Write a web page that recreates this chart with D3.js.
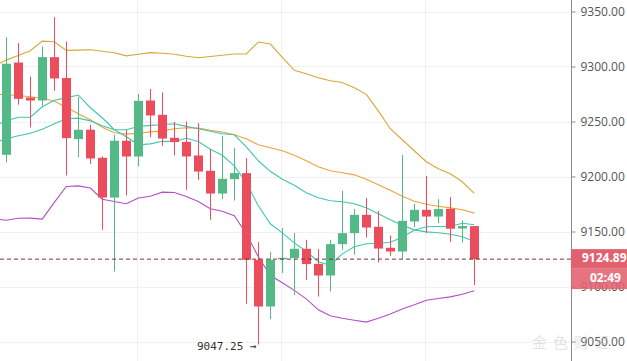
<!DOCTYPE html>
<html>
<head>
<meta charset="utf-8">
<script src="https://cdn.jsdelivr.net/npm/d3@7"></script>
<style>
  html, body { margin: 0; padding: 0; background: #fff; }
  svg { display: block; }
</style>
</head>
<body>
<div id="chart"></div>
<script>
// OHLC per candle (40 candles)
const opens  = [9219.7, 9303.6, 9271.8, 9269.1, 9308.5, 9289.5, 9234.0, 9242.5, 9217.0, 9180.9,
                9232.5, 9218.2, 9269.1, 9256.1, 9235.2, 9231.5, 9219.1, 9205.2, 9184.5, 9197.6,
                9203.1, 9124.3, 9081.8, 9124.9, 9125.8, 9134.3, 9120.6, 9110.0, 9138.5, 9148.5,
                9165.2, 9154.3, 9135.2, 9131.8, 9159.1, 9169.7, 9163.6, 9170.6, 9152.7, 9154.9];
const highs  = [9326.7, 9321.3, 9290.9, 9318.2, 9344.9, 9322.7, 9272.2, 9247.0, 9218.2, 9237.9,
                9242.5, 9275.2, 9279.5, 9276.4, 9249.5, 9250.0, 9248.5, 9224.9, 9237.0, 9226.1,
                9216.7, 9140.4, 9131.3, 9153.1, 9148.5, 9142.5, 9134.0, 9142.5, 9187.0, 9170.6,
                9180.4, 9168.8, 9146.4, 9219.5, 9175.2, 9200.6, 9179.5, 9181.3, 9160.0, 9154.9];
const lows   = [9212.7, 9265.2, 9244.5, 9264.3, 9277.9, 9200.9, 9217.6, 9211.5, 9151.5, 9113.6,
                9182.7, 9209.1, 9235.8, 9227.9, 9219.1, 9187.9, 9197.0, 9160.6, 9179.5, 9178.2,
                9084.3, 9047.25, 9070.4, 9112.2, 9092.2, 9106.1, 9090.9, 9095.5, 9133.4, 9128.8,
                9144.5, 9121.8, 9127.9, 9124.9, 9154.0, 9148.5, 9157.6, 9140.6, 9140.0, 9101.3];
const closes = [9302.5, 9270.6, 9269.1, 9308.5, 9289.1, 9234.9, 9242.5, 9216.4, 9180.9, 9232.5,
                9218.2, 9268.8, 9255.5, 9234.5, 9231.3, 9218.2, 9204.5, 9184.5, 9197.9, 9203.1,
                9124.3, 9081.8, 9124.3, 9126.1, 9134.3, 9120.4, 9110.0, 9138.5, 9148.5, 9165.2,
                9153.6, 9134.5, 9131.8, 9159.7, 9169.7, 9163.6, 9170.4, 9152.5, 9154.9, 9124.89];

// indicator lines, first value belongs to the candle just left of the view
const bandUpper = [9300.6, 9305.8, 9310.0, 9314.3, 9323.1, 9322.5, 9314.7, 9314.9, 9315.2, 9313.8,
                   9312.5, 9309.7, 9311.1, 9312.6, 9312.0, 9311.1, 9309.3, 9307.9, 9309.1, 9310.2,
                   9311.3, 9311.5, 9322.2, 9320.4, 9308.4, 9296.5, 9293.4, 9289.7, 9287.0, 9285.5,
                   9280.6, 9274.7, 9259.7, 9243.4, 9233.4, 9223.4, 9213.4, 9207.0, 9202.5, 9195.2, 9184.7];
const bandMid   = [9274.7, 9274.3, 9273.6, 9272.5, 9271.3, 9268.4, 9262.9, 9257.0, 9251.5, 9244.7,
                   9239.7, 9238.5, 9239.3, 9240.6, 9241.5, 9243.4, 9244.3, 9244.0, 9242.0, 9240.4,
                   9237.9, 9234.3, 9228.8, 9226.1, 9223.4, 9219.3, 9214.3, 9208.8, 9205.2, 9203.4,
                   9201.5, 9197.5, 9192.5, 9187.5, 9182.0, 9177.5, 9174.7, 9172.9, 9171.5, 9169.7, 9166.7];
const bandLower = [9161.5, 9160.2, 9162.0, 9162.2, 9161.3, 9176.5, 9190.9, 9191.5, 9189.5, 9179.3,
                   9177.2, 9175.2, 9180.4, 9182.0, 9185.8, 9185.5, 9181.8, 9177.3, 9170.6, 9168.4,
                   9164.3, 9147.9, 9127.0, 9110.2, 9103.4, 9096.5, 9088.8, 9078.8, 9073.4, 9071.1,
                   9069.3, 9067.6, 9071.1, 9074.9, 9079.5, 9083.4, 9087.5, 9089.1, 9090.6, 9092.9, 9096.1];
const maFast    = [9246.1, 9250.6, 9253.8, 9254.0, 9263.4, 9269.3, 9271.5, 9274.1, 9262.5, 9253.4,
                   9242.5, 9236.1, 9228.8, 9229.7, 9232.0, 9231.8, 9234.7, 9231.8, 9224.7, 9219.3,
                   9209.7, 9194.3, 9173.4, 9157.0, 9148.8, 9139.7, 9132.0, 9122.5, 9119.3, 9129.7,
                   9136.1, 9138.8, 9139.3, 9140.2, 9144.7, 9151.1, 9154.3, 9154.5, 9154.5, 9157.5, 9156.1];
const maSlow    = [9230.6, 9234.3, 9237.0, 9239.3, 9242.9, 9247.9, 9252.5, 9253.1, 9250.6, 9246.1,
                   9242.5, 9242.5, 9245.5, 9246.5, 9247.0, 9247.9, 9245.6, 9243.4, 9241.1, 9238.8,
                   9237.9, 9227.0, 9214.3, 9204.7, 9197.5, 9192.0, 9185.2, 9180.6, 9177.9, 9177.0,
                   9175.2, 9171.5, 9166.1, 9160.6, 9155.6, 9151.5, 9149.7, 9148.8, 9147.5, 9145.2, 9141.1];

const priceTicks = [9350, 9300, 9250, 9200, 9150, 9100, 9050];
const lastPrice = 9124.89;
const countdown = "02:49";
const lowMark = 9047.25;

const W = 627, H = 361, axisX = 571;
const up = "#53b987", down = "#eb4d5c";

const svg = d3.select("#chart").append("svg").attr("width", W).attr("height", H);

const x = d3.scaleLinear().domain([-1, 39]).range([-5.7, 474.3]);
const y = d3.scaleLinear().domain([9050, 9350]).range([341.5, 11.5]);

// grid
svg.append("g").selectAll("line").data(priceTicks).join("line")
  .attr("x1", 0).attr("x2", axisX).attr("y1", d => Math.round(y(d)) + 0.5).attr("y2", d => Math.round(y(d)) + 0.5)
  .attr("stroke", "#f0f0f0");
svg.append("g").selectAll("line").data([11, 23, 35]).join("line")
  .attr("x1", d => Math.round(x(d)) - 0.5).attr("x2", d => Math.round(x(d)) - 0.5).attr("y1", 0).attr("y2", H)
  .attr("stroke", "#f0f0f0");

// indicator lines
const idx = d3.range(-1, 40);
const line = d3.line().x((d, i) => x(idx[i])).y(d => y(d));
const series = [
  [bandUpper, "#d6a83a"],
  [bandMid, "#e9a53a"],
  [maSlow, "#42c4b0"],
  [maFast, "#3cc8b4"],
  [bandLower, "#b44ec6"]
];
svg.append("g").selectAll("path").data(series).join("path")
  .attr("d", d => line(d[0]))
  .attr("fill", "none")
  .attr("stroke", d => d[1])
  .attr("stroke-width", 1.1);

// candles
const candles = opens.map((o, i) => ({ i, o, h: highs[i], l: lows[i], c: closes[i] }));
const g = svg.append("g").selectAll("g").data(candles).join("g")
  .attr("fill", d => d.c >= d.o ? up : down)
  .attr("stroke", d => d.c >= d.o ? up : down);
g.append("line")
  .attr("x1", d => Math.round(x(d.i)) + 0.5).attr("x2", d => Math.round(x(d.i)) + 0.5)
  .attr("y1", d => y(d.h)).attr("y2", d => y(d.l))
  .attr("stroke-width", 1);
g.append("rect")
  .attr("x", d => Math.round(x(d.i)) - 4)
  .attr("width", 9)
  .attr("y", d => y(Math.max(d.o, d.c)))
  .attr("height", d => Math.max(1.5, Math.abs(y(d.o) - y(d.c))))
  .attr("stroke", "none");

// last price dashed line
svg.append("line")
  .attr("x1", 0).attr("x2", axisX).attr("y1", y(lastPrice)).attr("y2", y(lastPrice))
  .attr("stroke", "#7e3232").attr("stroke-dasharray", "4,3");

// low annotation
svg.append("text")
  .attr("x", 197).attr("y", y(lowMark) + 2)
  .attr("dominant-baseline", "middle")
  .attr("font-family", "DejaVu Sans Mono, monospace").attr("font-size", 11)
  .attr("fill", "#333")
  .text(lowMark.toFixed(2) + " \u2192");

// right axis
svg.append("rect").attr("x", axisX).attr("y", 0).attr("width", W - axisX).attr("height", H).attr("fill", "#fff");
const axis = d3.axisRight(y).tickValues(priceTicks).tickFormat(d => d.toFixed(2)).tickSize(4).tickPadding(5);
const ax = svg.append("g").attr("transform", `translate(${axisX + 0.5},0)`).call(axis);
ax.select(".domain").attr("stroke", "#8a8a8a").attr("d", `M0,0V${H}`);
ax.selectAll(".tick line").attr("stroke", "#8a8a8a");
ax.selectAll(".tick text").attr("fill", "#555").attr("font-size", 12).attr("font-family", "Open Sans, sans-serif");

// price label + countdown
const ly = y(lastPrice);
svg.append("rect").attr("x", axisX).attr("y", ly - 10).attr("width", W - axisX).attr("height", 19).attr("fill", "#e2616e");
svg.append("rect").attr("x", axisX).attr("y", ly + 9).attr("width", W - axisX).attr("height", 21).attr("fill", "#e2616e").attr("opacity", 0.88);
svg.append("text").attr("x", 582).attr("y", ly).attr("dominant-baseline", "middle")
  .attr("font-family", "Open Sans, sans-serif").attr("font-size", 12).attr("font-weight", 700)
  .attr("fill", "#fff").text(lastPrice.toFixed(2));
svg.append("text").attr("x", 590).attr("y", ly + 20).attr("dominant-baseline", "middle")
  .attr("font-family", "Open Sans, sans-serif").attr("font-size", 12).attr("font-weight", 700)
  .attr("fill", "#fff").text(countdown);

// faint watermark
svg.append("text").attr("x", 532).attr("y", 348)
  .attr("font-family", "Noto Sans CJK SC, sans-serif").attr("font-size", 15)
  .attr("letter-spacing", 6)
  .attr("fill", "#bbb").attr("opacity", 0.4).text("金色财经");
</script>
</body>
</html>
